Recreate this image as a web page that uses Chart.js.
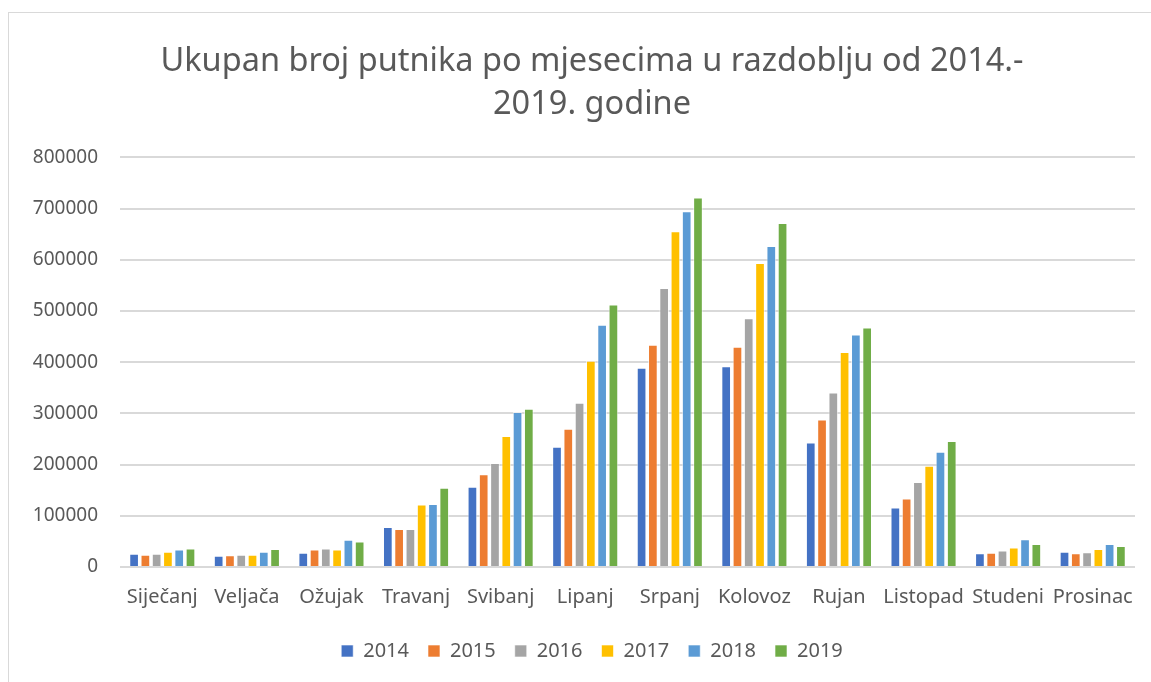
<!DOCTYPE html>
<html>
<head>
<meta charset="utf-8">
<script src="https://cdn.jsdelivr.net/npm/chart.js@4.4.1/dist/chart.umd.min.js"></script>
<style>
  html, body { margin: 0; padding: 0; background: #fff; }
  .wrap { position: relative; width: 1151px; height: 682px; overflow: hidden; }
  .frame {
    position: absolute; left: 8px; top: 12px; width: 1200px; height: 700px;
    border: 1px solid #d9d9d9; box-sizing: border-box;
  }
  canvas { position: absolute; left: 0; top: 0; }
</style>
</head>
<body>
<div class="wrap">
  <div class="frame"></div>
  <!-- canvas je siri od prozora: okvir grafikona u Excelu ide desno izvan slike -->
  <canvas id="putniciChart" width="1200" height="682"></canvas>
</div>
<script>
// mjeseci
const months = ["Siječanj","Veljača","Ožujak","Travanj","Svibanj","Lipanj",
                "Srpanj","Kolovoz","Rujan","Listopad","Studeni","Prosinac"];

// putnici po godinama (ocitano s grafa)
const y2014 = [26000, 22000, 28000, 78000, 157000, 235000, 389000, 392000, 243000, 116000, 27000, 30000];
const y2015 = [24000, 23000, 34000, 74000, 181000, 270000, 434000, 430000, 288000, 134000, 28000, 27000];
const y2016 = [26000, 24000, 36000, 74000, 203000, 321000, 545000, 486000, 341000, 166000, 32000, 29000];
const y2017 = [30000, 24000, 34000, 122000, 256000, 403000, 656000, 594000, 420000, 198000, 38000, 35000];
const y2018 = [34000, 30000, 53000, 123000, 303000, 473000, 695000, 627000, 454000, 225000, 54000, 45000];
const y2019 = [36000, 35000, 50000, 155000, 309000, 513000, 722000, 672000, 468000, 246000, 45000, 41000];

const years = ["2014","2015","2016","2017","2018","2019"];
const series = [y2014, y2015, y2016, y2017, y2018, y2019];
const colors = ["#4472C4","#ED7D31","#A5A5A5","#FFC000","#5B9BD5","#70AD47"];

const FONT = "'Noto Sans', sans-serif";
const TEXT = "#595959";

const el = document.getElementById("putniciChart");
new Chart(el, {
  type: "bar",
  data: {
    labels: months,
    datasets: series.map((d, i) => ({
      label: years[i],
      data: d,
      backgroundColor: colors[i],
      borderColor: "rgba(255,255,255,0.6)",
      borderWidth: 1,
      barPercentage: 0.86,
      categoryPercentage: 0.8
    }))
  },
  options: {
    responsive: false,
    animation: false,
    layout: { padding: { left: 8, right: 24, bottom: 11 } },
    plugins: {
      title: {
        display: true,
        text: ["Ukupan broj putnika po mjesecima u razdoblju od 2014.-", "2019. godine"],
        color: TEXT,
        font: { family: FONT, size: 32.5, weight: "normal", lineHeight: 1.33 },
        padding: { top: 40, bottom: 31 }
      },
      legend: {
        position: "bottom",
        labels: {
          color: TEXT,
          font: { family: FONT, size: 20 },
          boxWidth: 12,
          boxHeight: 12,
          padding: 19
        }
      },
      tooltip: { enabled: false }
    },
    scales: {
      x: {
        grid: { display: false },
        border: { display: false },
        ticks: { color: TEXT, font: { family: FONT, size: 20 }, padding: 10, maxRotation: 0 },
        afterFit(s) { s.height = 55; }
      },
      y: {
        min: 0,
        max: 800000,
        grid: { color: "#d9d9d9", lineWidth: 2, drawTicks: false },
        border: { display: false },
        ticks: {
          stepSize: 100000,
          color: TEXT,
          font: { family: FONT, size: 19 },
          padding: 22,
          callback: v => String(v)
        },
        afterFit(s) { s.width = 112; }
      },
      // prazna desna os, samo da podrucje crtanja zavrsi na istom mjestu
      yRight: {
        position: "right",
        grid: { display: false },
        border: { display: false },
        ticks: { display: false },
        afterFit(s) { s.width = 41; }
      }
    }
  }
});
</script>
</body>
</html>
